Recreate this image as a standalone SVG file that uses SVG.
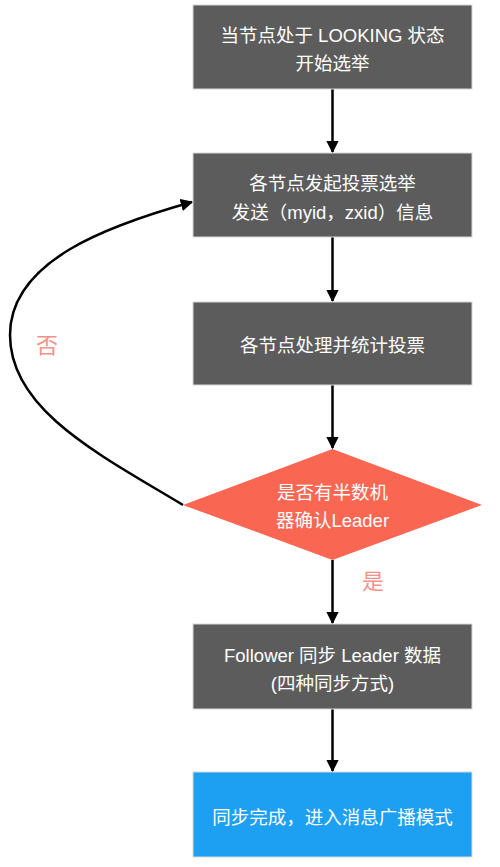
<svg xmlns="http://www.w3.org/2000/svg" width="500" height="867" viewBox="0 0 500 867">
<defs>
<style>
.box{fill:#5c5c5c;stroke:#d8d8d8;stroke-width:1}
.t{font-family:"Liberation Sans","Noto Sans CJK SC",sans-serif;font-size:18.5px;fill:#ffffff;text-anchor:middle}
.lbl{font-family:"Noto Sans CJK SC",sans-serif;font-size:22px;fill:#f4928a;text-anchor:middle}
.edge{fill:none;stroke:#000;stroke-width:2.5}
</style>
<marker id="ah" viewBox="0 0 10 10" refX="9" refY="5" markerWidth="5" markerHeight="5" markerUnits="strokeWidth" orient="auto">
<path d="M0,0 L10,5 L0,10 z" fill="#000"/>
</marker>
</defs>
<rect width="500" height="867" fill="#ffffff"/>
<g id="connectors">
<path class="edge" d="M332.5,89 V152" marker-end="url(#ah)"/>
<path class="edge" d="M332.5,237 V301" marker-end="url(#ah)"/>
<path class="edge" d="M332.5,385 V448" marker-end="url(#ah)"/>
<path class="edge" d="M332.5,560 V623" marker-end="url(#ah)"/>
<path class="edge" d="M332.5,709 V771" marker-end="url(#ah)"/>
<path class="edge" d="M183,505 C100,455 10,410 10,335 C10,260 110,225 192,202" marker-end="url(#ah)"/>
</g>
<g id="n1">
<rect class="box" x="193" y="5" width="279" height="84"/>
<text class="t" x="332.5" y="42">当节点处于 LOOKING 状态</text>
<text class="t" x="332.5" y="70">开始选举</text>
</g>
<g id="n2">
<rect class="box" x="193" y="153" width="279" height="84"/>
<text class="t" x="332.5" y="190">各节点发起投票选举</text>
<text class="t" x="332.5" y="219">发送（myid，zxid）信息</text>
</g>
<g id="n3">
<rect class="box" x="193" y="302" width="279" height="83"/>
<text class="t" x="332.5" y="352">各节点处理并统计投票</text>
</g>
<g id="n4">
<path d="M332.5,449 L482,505 L332.5,560 L183,505 z" fill="#f96753"/>
<text class="t" x="332.5" y="499">是否有半数机</text>
<text class="t" x="332.5" y="527">器确认Leader</text>
</g>
<g id="n5">
<rect class="box" x="193" y="624" width="279" height="85"/>
<text class="t" x="332.5" y="662">Follower 同步 Leader 数据</text>
<text class="t" x="332.5" y="690">(四种同步方式)</text>
</g>
<g id="n6">
<rect x="193" y="772" width="279" height="85" fill="#1ea0f2" stroke="#d8d8d8" stroke-width="1"/>
<text class="t" x="332.5" y="824">同步完成，进入消息广播模式</text>
</g>
<g id="labels">
<text class="lbl" x="47" y="353">否</text>
<text class="lbl" x="373" y="589">是</text>
</g>
</svg>
